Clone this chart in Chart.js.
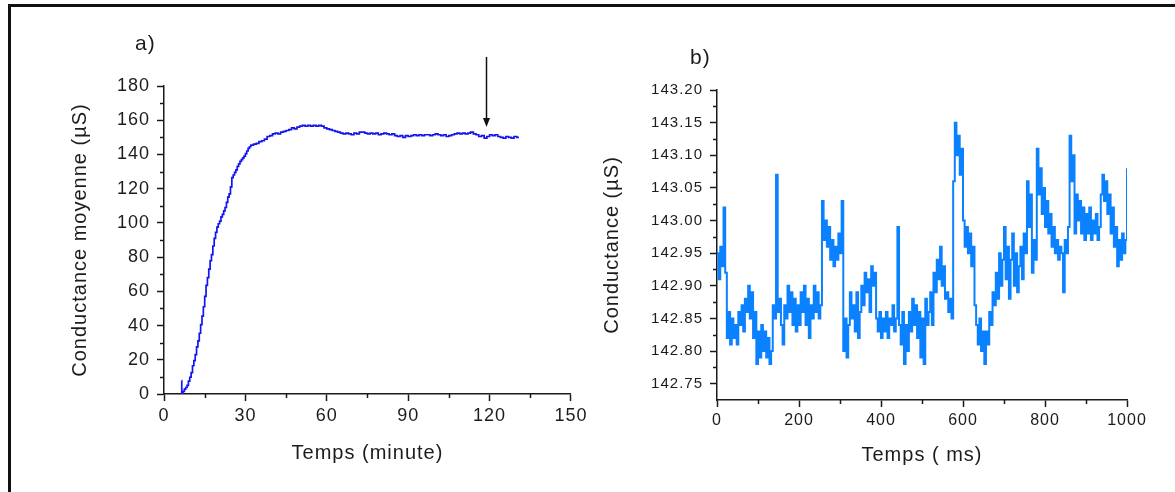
<!DOCTYPE html>
<html lang="fr">
<head>
<meta charset="utf-8">
<title>Conductance</title>
<script src="https://cdn.jsdelivr.net/npm/chart.js@4.4.1/dist/chart.umd.min.js"></script>
<style>
  html, body { margin: 0; padding: 0; background: #fff; }
  .frame { position: relative; width: 1175px; height: 492px; overflow: hidden; }
  .frame__border { position: absolute; left: 8px; top: 4px; right: -10px; bottom: -10px; border-left: 3px solid #111; border-top: 3px solid #111; }
  #chart-a { position: absolute; left: 0; top: 0; }
  #chart-b { position: absolute; left: 590px; top: 0; }
</style>
</head>
<body>
<div class="frame">
  <div class="frame__border"></div>
  <canvas id="chart-a" width="590" height="492"></canvas>
  <canvas id="chart-b" width="585" height="492"></canvas>
</div>
<script>
(function () {
  'use strict';

  // a) mean conductance vs time (minutes)
  var TIME_A = [
    6.5, 6.55, 7, 7.5, 8, 8.5, 9, 9.5, 10, 10.5, 11, 11.5, 12, 12.5, 13, 13.5, 14, 14.5,
    15, 15.5, 16, 16.5, 17, 17.5, 18, 18.5, 19, 19.5, 20, 20.5, 21, 21.5, 22, 22.5,
    23, 23.5, 24, 24.5, 25, 25.5, 26, 26.5, 27, 27.5, 28, 28.5, 29, 29.5, 30, 30.5,
    31, 31.5, 32, 33, 34, 35, 36, 37, 38, 39, 40, 41, 42, 43, 44, 45, 46, 47, 48, 49,
    50, 51, 52, 53, 54, 55, 56, 57, 58, 59, 60, 61, 62, 63, 64, 65, 66, 67, 68, 69,
    70, 71, 72, 73, 74, 75, 76, 77, 78, 79, 80, 81, 82, 83, 84, 85, 86, 87, 88, 89,
    90, 91, 92, 93, 94, 95, 96, 97, 98, 99, 100, 101, 102, 103, 104, 105, 106, 107, 108, 109,
    110, 111, 112, 113, 114, 115, 116, 117, 118, 119, 120, 121, 122, 123, 124, 125, 126, 127, 128, 129,
    130, 130.5
  ];
  var COND_A = [
    7.8, 0.3, 1.5, 2.8, 3.8, 5.0, 7.5, 9.8, 12.5, 16.5, 19.5, 23.0, 27.5, 31.0, 35.5, 40.5, 45.5, 51.0,
    57.0, 63.5, 68.0, 73.0, 78.0, 81.5, 86.5, 91.0, 94.5, 97.5, 99.5, 101.0, 103.5, 105.0, 107.0, 109.0,
    112.0, 115.0, 117.0, 121.0, 126.5, 128.0, 129.5, 131.0, 133.0, 134.5, 136.0, 137.0, 138.0, 139.0, 140.5, 142.0,
    143.5, 144.5, 145.5, 146.0, 146.5, 147.5, 148.0, 149.0, 150.5, 151.0, 152.0, 152.5, 152.0, 153.0, 153.5, 154.0, 154.5, 155.5, 155.0, 156.0,
    156.5, 157.0, 156.5, 157.0, 156.5, 157.0, 156.5, 157.0, 156.5, 155.5, 155.0, 154.5, 154.0, 153.5, 153.0, 152.5, 152.0, 152.5, 152.0, 151.5,
    152.5, 152.0, 153.0, 153.0, 152.5, 152.0, 152.5, 152.0, 152.5, 151.5, 152.0, 152.5, 152.0, 151.5, 152.0, 151.0, 150.5, 151.0, 150.0, 151.0,
    150.5, 151.0, 151.5, 151.0, 151.5, 151.0, 151.5, 151.5, 151.0, 151.5, 152.0, 151.5, 151.0, 151.5, 150.5, 151.0, 151.5, 152.0, 152.5, 152.0,
    152.5, 152.0, 152.5, 153.0, 152.0, 151.5, 150.5, 151.0, 149.5, 150.5, 151.5, 151.0, 151.5, 150.5, 150.0, 149.5, 150.5, 150.0, 149.5, 150.5,
    150.0, 150.5
  ];
  var TICKS_A_X = [0, 30, 60, 90, 120, 150];
  var TICKS_A_Y = [0, 20, 40, 60, 80, 100, 120, 140, 160, 180];
  var ARROW_A = { x: 118.5, from: 197, to: 156 };

  // b) conductance vs time (ms), one sample every B_STEP_MS
  var B_STEP_MS = 4;
  var COND_B = [
    142.95, 142.91, 142.96, 142.93, 143.02, 142.92, 142.82, 142.86, 142.81, 142.85,
    142.82, 142.84, 142.81, 142.86, 142.84, 142.87, 142.83, 142.88, 142.86, 142.90,
    142.85, 142.89, 142.82, 142.86, 142.78, 142.83, 142.79, 142.84, 142.80, 142.83,
    142.79, 142.82, 142.78, 142.80, 142.87, 142.85, 143.07, 142.86, 142.88, 142.84,
    142.81, 142.87, 142.85, 142.90, 142.86, 142.89, 142.84, 142.88, 142.83, 142.87,
    142.84, 142.89, 142.86, 142.90, 142.84, 142.88, 142.82, 142.87, 142.85, 142.90,
    142.86, 142.89, 142.85, 142.87, 143.03, 142.97, 143.00, 142.96, 142.99, 142.94,
    142.97, 142.93, 142.96, 142.94, 142.98, 142.95, 143.03, 142.80, 142.85, 142.79,
    142.84, 142.89, 142.85, 142.87, 142.83, 142.89, 142.82, 142.86, 142.90, 142.87,
    142.92, 142.89, 142.91, 142.86, 142.93, 142.90, 142.92, 142.85, 142.83, 142.86,
    142.82, 142.85, 142.83, 142.86, 142.82, 142.85, 142.84, 142.87, 142.83, 142.85,
    142.99, 142.84, 142.81, 142.86, 142.78, 142.84, 142.80, 142.86, 142.83, 142.88,
    142.84, 142.87, 142.82, 142.86, 142.79, 142.85, 142.78, 142.88, 142.84, 142.86,
    142.89, 142.84, 142.92, 142.89, 142.94, 142.91, 142.96, 142.90, 142.93, 142.88,
    142.89, 142.86, 142.88, 142.85, 143.06, 143.15, 143.10, 143.13, 143.07, 143.11,
    143.00, 142.96, 142.99, 142.95, 142.98, 142.93, 142.96, 142.87, 142.84, 142.81,
    142.85, 142.80, 142.83, 142.78, 142.83, 142.81, 142.86, 142.84, 142.89, 142.87,
    142.92, 142.88, 142.95, 142.90, 142.94, 142.99, 142.91, 142.96, 142.88, 142.94,
    142.98, 142.90, 142.95, 142.89, 142.93, 142.96, 142.91, 142.98, 142.95, 143.06,
    142.99, 143.04, 142.92, 142.97, 142.94, 143.11, 143.04, 143.08, 143.01, 143.05,
    142.99, 143.03, 142.98, 143.01, 142.96, 142.99, 142.95, 142.97, 142.94, 142.96,
    142.95, 142.89, 142.97, 142.95, 142.99, 143.13, 143.06, 143.10, 142.98, 143.04,
    143.00, 143.03, 142.98, 143.02, 142.97, 143.01, 142.98, 143.02, 142.97, 143.00,
    142.98, 143.01, 142.97, 142.99, 143.04, 143.07, 143.03, 143.06, 143.01, 143.04,
    142.98, 143.02, 142.96, 142.99, 142.93, 142.97, 142.94, 142.98, 142.95, 142.97,
    143.08
  ];
  var TICKS_B_X = [0, 200, 400, 600, 800, 1000];
  var TICKS_B_Y = [142.75, 142.80, 142.85, 142.90, 142.95, 143.00, 143.05, 143.10, 143.15, 143.20];

  var FONT = '"Liberation Sans", Arial, sans-serif';
  var TEXT_COLOR = '#1c1c1c';
  var AXIS_COLOR = '#1a1a1a';

  function midpoints(arr) {
    var out = [];
    for (var i = 0; i < arr.length - 1; i++) out.push((arr[i] + arr[i + 1]) / 2);
    return out;
  }

  // the original figure's text is a little spread out
  var spacing = {
    id: 'spacing',
    beforeDraw: function (chart, args, opts) {
      chart.ctx.letterSpacing = opts.px + 'px';
    }
  };

  var minorTicks = {
    id: 'minorTicks',
    afterDraw: function (chart, args, opts) {
      var ctx = chart.ctx;
      var xs = chart.scales.x;
      var ys = chart.scales.y;
      ctx.save();
      ctx.strokeStyle = AXIS_COLOR;
      ctx.lineWidth = 1.5;
      ctx.beginPath();
      opts.x.forEach(function (v) {
        var px = Math.round(xs.getPixelForValue(v)) + 0.5;
        ctx.moveTo(px, xs.top);
        ctx.lineTo(px, xs.top + 4);
      });
      opts.y.forEach(function (v) {
        var py = Math.round(ys.getPixelForValue(v)) + 0.5;
        ctx.moveTo(ys.right, py);
        ctx.lineTo(ys.right - 4, py);
      });
      ctx.stroke();
      ctx.restore();
    }
  };

  var panelLabel = {
    id: 'panelLabel',
    afterDraw: function (chart, args, opts) {
      var ctx = chart.ctx;
      ctx.save();
      ctx.font = opts.size + 'px ' + FONT;
      ctx.fillStyle = TEXT_COLOR;
      ctx.textBaseline = 'middle';
      ctx.fillText(opts.text, opts.left, opts.top);
      ctx.restore();
    }
  };

  var arrow = {
    id: 'arrow',
    afterDraw: function (chart, args, opts) {
      if (!opts || opts.x == null) return;
      var ctx = chart.ctx;
      var px = Math.round(chart.scales.x.getPixelForValue(opts.x)) + 0.5;
      var y0 = chart.scales.y.getPixelForValue(opts.from);
      var y1 = chart.scales.y.getPixelForValue(opts.to);
      ctx.save();
      ctx.strokeStyle = '#111';
      ctx.fillStyle = '#111';
      ctx.lineWidth = 1.5;
      ctx.beginPath();
      ctx.moveTo(px, y0);
      ctx.lineTo(px, y1 - 6);
      ctx.stroke();
      ctx.beginPath();
      ctx.moveTo(px - 3.5, y1 - 9);
      ctx.lineTo(px + 3.5, y1 - 9);
      ctx.lineTo(px, y1);
      ctx.closePath();
      ctx.fill();
      ctx.restore();
    }
  };

  function axisOptions(o) {
    return {
      type: 'linear',
      min: o.min,
      max: o.max,
      afterBuildTicks: function (scale) {
        scale.ticks = o.ticks.map(function (v) { return { value: v }; });
      },
      afterFit: function (scale) {
        if (o.width) scale.width = o.width;
        if (o.height) scale.height = o.height;
      },
      ticks: {
        color: TEXT_COLOR,
        font: { family: FONT, size: o.tickSize },
        padding: o.tickPad,
        maxRotation: 0,
        autoSkip: false,
        callback: o.format
      },
      grid: { drawOnChartArea: false, drawTicks: true, tickLength: 7, tickWidth: 1.5, tickColor: AXIS_COLOR },
      border: { display: true, color: AXIS_COLOR, width: 1.5 },
      title: {
        display: true,
        text: o.title,
        color: TEXT_COLOR,
        font: { family: FONT, size: o.titleSize },
        padding: o.titlePad
      }
    };
  }

  function initChartA() {
    var el = document.getElementById('chart-a');
    var points = TIME_A.map(function (t, i) { return { x: t, y: COND_A[i] }; });
    new Chart(el, {
      type: 'line',
      data: { datasets: [{ data: points, borderColor: '#1414f0', borderWidth: 1.7, pointRadius: 0, stepped: true, fill: false }] },
      options: {
        responsive: false,
        animation: false,
        devicePixelRatio: 1,
        layout: { padding: { top: 86, right: 16, bottom: 0, left: 0 } },
        plugins: {
          legend: { display: false },
          tooltip: { enabled: false },
          spacing: { px: 1 },
          minorTicks: { x: midpoints(TICKS_A_X), y: midpoints(TICKS_A_Y) },
          panelLabel: { text: 'a)', size: 21, left: 135, top: 44 },
          arrow: ARROW_A
        },
        scales: {
          x: axisOptions({
            min: 0, max: 150, ticks: TICKS_A_X, height: 98, tickSize: 18, tickPad: 4,
            format: function (v) { return String(v); },
            title: 'Temps (minute)', titleSize: 20, titlePad: { top: 0, bottom: 27 }
          }),
          y: axisOptions({
            min: 0, max: 180, ticks: TICKS_A_Y, width: 164, tickSize: 18, tickPad: 7,
            format: function (v) { return String(v); },
            title: 'Conductance moyenne (µS)', titleSize: 20, titlePad: { top: 68, bottom: 0 }
          })
        }
      },
      plugins: [spacing, minorTicks, panelLabel, arrow]
    });
  }

  function initChartB() {
    var el = document.getElementById('chart-b');
    var points = COND_B.map(function (v, i) { return { x: i * B_STEP_MS, y: v }; });
    new Chart(el, {
      type: 'line',
      data: { datasets: [{ data: points, borderColor: 'rgb(10, 130, 255)', borderWidth: 2, pointRadius: 0, stepped: true, fill: false }] },
      options: {
        responsive: false,
        animation: false,
        devicePixelRatio: 1,
        layout: { padding: { top: 90, right: 48, bottom: 0, left: 0 } },
        plugins: {
          legend: { display: false },
          tooltip: { enabled: false },
          spacing: { px: 1 },
          minorTicks: { x: midpoints(TICKS_B_X), y: midpoints(TICKS_B_Y) },
          panelLabel: { text: 'b)', size: 21, left: 100, top: 58 }
        },
        scales: {
          x: axisOptions({
            min: 0, max: 1000, ticks: TICKS_B_X, height: 92, tickSize: 16, tickPad: 4,
            format: function (v) { return String(v); },
            title: 'Temps ( ms)', titleSize: 20, titlePad: { top: 0, bottom: 25 }
          }),
          y: axisOptions({
            min: 142.725, max: 143.2, ticks: TICKS_B_Y, width: 127, tickSize: 15, tickPad: 7,
            format: function (v) { return Number(v).toFixed(2); },
            title: 'Conductance (µS)', titleSize: 20, titlePad: { top: 10, bottom: 0 }
          })
        }
      },
      plugins: [spacing, minorTicks, panelLabel]
    });
  }

  initChartA();
  initChartB();
})();
</script>
</body>
</html>
